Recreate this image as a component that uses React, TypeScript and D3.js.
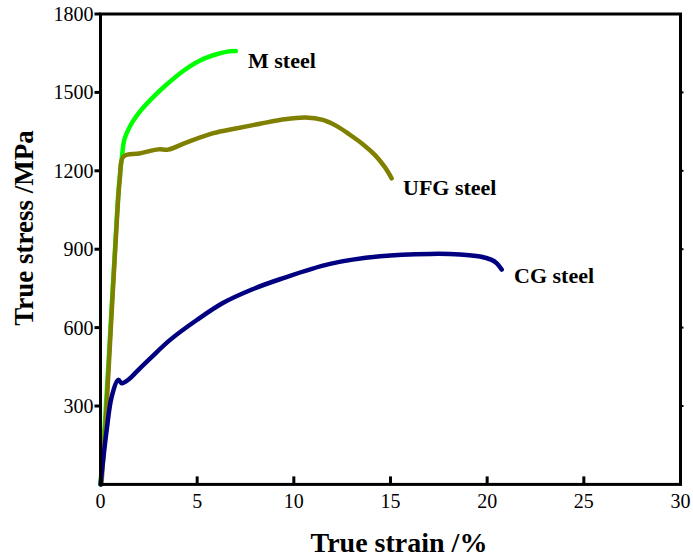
import React from "react";
import * as d3 from "d3";

const xTicks = [0, 5, 10, 15, 20, 25, 30];
const yTicks = [300, 600, 900, 1200, 1500, 1800];

const mStrain = [0, 0.25, 0.5, 0.75, 0.95, 1.12, 1.23, 1.6, 2.1, 2.7, 3.42, 4.28, 5.15, 6.0, 6.5, 7.0];
const mStress = [0, 260, 580, 900, 1140, 1260, 1318, 1380, 1432, 1480, 1530, 1582, 1622, 1646, 1655, 1658];

const ufgStrain = [0.05, 0.3, 0.55, 0.8, 1.0, 1.18, 2.0, 3.0, 3.5, 4.5, 5.84, 7.0, 8.25, 9.5, 10.6, 11.5, 12.2, 12.9, 13.6, 14.2, 14.7, 15.06];
const ufgStress = [0, 280, 620, 950, 1170, 1254, 1266, 1282, 1281, 1310, 1344, 1362, 1380, 1397, 1404, 1395, 1372, 1338, 1300, 1260, 1215, 1171];

const cgStrain = [0, 0.32, 0.58, 0.92, 1.1, 1.53, 1.78, 2.6, 3.6, 5.0, 6.35, 7.8, 9.28, 11.87, 14.46, 17.05, 18.6, 19.63, 20.2, 20.5, 20.75];
const cgStress = [0, 208, 336, 400, 387, 406, 425, 484, 553, 630, 695, 745, 785, 844, 873, 882, 880, 872, 860, 846, 822];

const labels = ["M steel", "UFG steel", "CG steel"];

const font = "Times New Roman, Liberation Serif, serif";

export default function App() {
  const W = 693, H = 560;
  const left = 100.5, right = 680.5, top = 14, bottom = 484.4;
  const x = d3.scaleLinear().domain([0, 30]).range([left, right]);
  const y = d3.scaleLinear().domain([0, 1800]).range([bottom, top]);
  const line = d3.line<[number, number]>().x(d => x(d[0])).y(d => y(d[1])).curve(d3.curveCatmullRom.alpha(0.5));
  const series = [
    { s: mStrain, t: mStress, c: "#00ff00" },
    { s: ufgStrain, t: ufgStress, c: "#808000" },
    { s: cgStrain, t: cgStress, c: "#000080" },
  ];
  const ts = { fontFamily: font };
  return (
    <svg width={W} height={H} style={{ position: "absolute", left: 0, top: 0, background: "#fff" }}>
      <rect x={0} y={0} width={W} height={H} fill="#fff" />
      {series.map((sr, i) => (
        <path key={i} d={line(sr.s.map((v, j) => [v, sr.t[j]] as [number, number])) || ""} fill="none" stroke={sr.c} strokeWidth={4.5} strokeLinejoin="round" strokeLinecap="round" />
      ))}
      <rect x={left} y={top} width={right - left} height={bottom - top} fill="none" stroke="#000" strokeWidth={3} />
      {xTicks.map(t => (
        <g key={"x" + t}>
          {t > 0 && t < 30 && <line x1={x(t)} x2={x(t)} y1={bottom} y2={bottom - 8} stroke="#000" strokeWidth={3} />}
          <text x={x(t)} y={bottom + 24} textAnchor="middle" fontSize={20} style={ts}>{t}</text>
        </g>
      ))}
      {yTicks.map(t => (
        <g key={"y" + t}>
          <line x1={left} x2={left - 6} y1={y(t)} y2={y(t)} stroke="#000" strokeWidth={3} />
          {t < 1800 && <line x1={right} x2={right + 3} y1={y(t)} y2={y(t)} stroke="#000" strokeWidth={2} />}
          <text x={left - 7} y={y(t) + 7} textAnchor="end" fontSize={20} style={ts}>{t}</text>
        </g>
      ))}
      <text x={248} y={68} fontSize={22} fontWeight="bold" style={ts}>{labels[0]}</text>
      <text x={403} y={195} fontSize={22} fontWeight="bold" style={ts}>{labels[1]}</text>
      <text x={514} y={283} fontSize={22} fontWeight="bold" style={ts}>{labels[2]}</text>
      <text x={399} y={552} textAnchor="middle" fontSize={28} fontWeight="bold" style={ts}>True strain /%</text>
      <text transform={`translate(33,228) rotate(-90)`} textAnchor="middle" fontSize={27} fontWeight="bold" style={ts}>True stress /MPa</text>
    </svg>
  );
}
